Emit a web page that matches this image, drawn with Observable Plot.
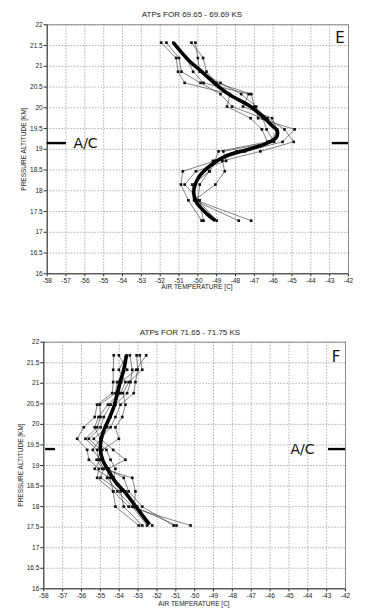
<!DOCTYPE html>
<html><head><meta charset="utf-8">
<script src="https://cdn.jsdelivr.net/npm/d3@7"></script>
<script src="https://cdn.jsdelivr.net/npm/@observablehq/plot@0.6"></script>
<style>
body{margin:0;background:#fff;width:366px;height:613px;position:relative;overflow:hidden;font-family:"Liberation Sans",Arial,sans-serif;}
.t{position:absolute;white-space:nowrap;color:#222;line-height:1;}
.pan{position:absolute;left:0;}
</style></head><body>
<div id="e" class="pan" style="top:0"></div>
<div id="f" class="pan" style="top:310px"></div>
<div class="t" style="left:0;width:384px;text-align:center;top:11px;font-size:8px">ATPs FOR 69.65 - 69.69 KS</div>
<div class="t" style="left:0;width:394px;text-align:center;top:284px;font-size:6.5px">AIR TEMPERATURE [C]</div>
<div class="t" style="left:24px;top:149px;font-size:6.5px;transform:translate(-50%,-50%) rotate(-90deg)">PRESSURE ALTITUDE [KM]</div>
<div class="t" style="left:0;width:380px;text-align:center;top:328.5px;font-size:8px">ATPs FOR 71.65 - 71.75 KS</div>
<div class="t" style="left:0;width:388px;text-align:center;top:601px;font-size:6.5px">AIR TEMPERATURE [C]</div>
<div class="t" style="left:21px;top:465px;font-size:6.5px;transform:translate(-50%,-50%) rotate(-90deg)">PRESSURE ALTITUDE [KM]</div>
<script>
// tick values
const xTicks = [-58,-57,-56,-55,-54,-53,-52,-51,-50,-49,-48,-47,-46,-45,-44,-43,-42];
const yTicks = [16,16.5,17,17.5,18,18.5,19,19.5,20,20.5,21,21.5,22];

// Panel E (69.65 - 69.69 KS)
const eAlt = [21.57,21.2,20.87,20.6,20.33,20.03,19.75,19.48,19.18,18.95,18.72,18.47,18.15,17.77,17.28];
const eProf1 = [-51.95,-51.15,-51.05,-50.7,-48.3,-48.45,-47.2,-46.6,-46.3,-48.9,-49.1,-50.8,-50.9,-50.5,-49.8];
const eProf2 = [-51.67,-51.0,-50.87,-49.86,-48.8,-48.18,-46.55,-46.35,-45.95,-48.65,-48.5,-50.1,-50.7,-49.9,-49.7];
const eProf3 = [-51.31,-50.6,-50.25,-49.7,-47.3,-47.6,-46.06,-45.8,-46.1,-47.95,-49.2,-49.4,-49.9,-50.0,-49.0];
const eProf4 = [-50.34,-49.72,-49.54,-49.01,-47.16,-47.0,-46.3,-45.4,-44.91,-46.68,-48.7,-48.57,-49.07,-50.2,-47.83];
const eProf5 = [-50.13,-50.0,-49.9,-48.8,-47.7,-46.9,-46.8,-44.86,-45.5,-47.5,-49.0,-49.37,-50.3,-50.1,-47.17];
const eMeanAlt = [21.57,21.14,20.86,20.54,20.3,20.06,19.77,19.57,19.45,19.29,19.15,18.99,18.85,18.61,18.33,17.97,17.73,17.48,17.28];
const eMeanT = [-51.3,-50.48,-49.77,-48.98,-48.27,-47.3,-46.5,-46.06,-45.79,-45.83,-46.32,-47.38,-48.45,-49.33,-49.95,-50.22,-50.08,-49.6,-49.07];

// Panel F (71.65 - 71.75 KS)
const fAlt = [21.68,21.33,21.03,20.76,20.48,20.18,19.93,19.65,19.38,19.14,18.92,18.7,18.37,18.0,17.54];
const fProf1 = [-54.29,-54.32,-54.32,-54.37,-55.17,-55.3,-55.88,-56.23,-55.7,-55.61,-55.08,-55.17,-54.32,-54.2,-52.96];
const fProf2 = [-54.02,-53.58,-54.11,-54.2,-55.03,-54.99,-55.17,-55.79,-55.17,-55.08,-54.82,-54.99,-53.93,-53.76,-52.78];
const fProf3 = [-53.61,-54.02,-53.67,-53.93,-54.46,-54.82,-54.99,-55.61,-54.99,-54.9,-54.55,-54.64,-54.1,-53.31,-52.52];
const fProf4 = [-53.44,-53.31,-53.4,-53.58,-54.2,-54.46,-54.64,-55.35,-54.68,-54.46,-54.2,-54.29,-53.67,-53.05,-52.25];
const fProf5 = [-53.08,-53.02,-53.14,-53.23,-53.93,-54.2,-54.46,-54.99,-54.32,-53.67,-54.6,-53.76,-53.5,-52.78,-51.11];
const fProf6 = [-52.91,-52.78,-53.5,-53.8,-53.67,-53.84,-54.2,-54.02,-54.9,-55.2,-54.9,-53.31,-53.14,-53.2,-50.96];
const fProf7 = [-52.57,-53.1,-53.9,-54.0,-54.6,-55.1,-55.3,-55.0,-55.4,-55.0,-55.3,-54.5,-54.32,-53.5,-50.22];
const fMeanAlt = [21.68,21.35,21.03,20.76,20.48,20.18,19.93,19.65,19.38,19.1,18.9,18.6,18.35,18.05,17.56];
const fMeanT = [-53.62,-53.75,-53.95,-54.1,-54.25,-54.5,-54.75,-54.95,-55.0,-54.85,-54.6,-54.2,-53.7,-53.2,-52.4];

// annotations (aircraft altitude marks and panel letters)
const eAC = {alt:19.15, left:[-58,-56.98], right:[-42.86,-42], textT:-56.6, label:"A/C"};
const fAC = {alt:19.4, left:[-57.9,-57.38], right:[-42.9,-42], textT:-44.92, label:"A/C"};
const eLetter = {t:-42.45, a:21.67, label:"E"};
const fLetter = {t:-42.5, a:21.64, label:"F"};

function table(profiles, alts){
  return profiles.flatMap((p,i)=>p.map((t,j)=>({t, a:alts[j], id:i})));
}
function meanTable(ts, as){ return ts.map((t,i)=>({t, a:as[i]})); }

function panel(opts){
  const {height, mt, mb, ml, mr, profiles, alts, meanT, meanA, ac, letter} = opts;
  const data = table(profiles, alts);
  const mean = meanTable(meanT, meanA);
  const dashes = [
    {a:ac.alt, x1:ac.left[0], x2:ac.left[1]},
    {a:ac.alt, x1:ac.right[0], x2:ac.right[1]}
  ];
  return Plot.plot({
    width:366, height, marginTop:mt, marginBottom:mb, marginLeft:ml, marginRight:mr,
    style:{fontFamily:"'Liberation Sans', Arial, sans-serif", fontSize:"6.5px", background:"transparent", color:"#222", overflow:"visible"},
    x:{domain:[-58,-42], ticks:xTicks, tickSize:3, tickPadding:1.5, tickFormat:d=>String(d), label:null},
    y:{domain:[16,22], ticks:yTicks, tickSize:3, tickPadding:1.5, tickFormat:d=>String(d), label:null},
    marks:[
      Plot.ruleX(xTicks, {stroke:"#9a9a9a", strokeDasharray:"1.5,1.5", strokeWidth:0.8}),
      Plot.ruleY(yTicks, {stroke:"#9a9a9a", strokeDasharray:"1.5,1.5", strokeWidth:0.8}),
      Plot.frame({stroke:"#777", strokeWidth:0.8}),
      Plot.ruleX([-58], {stroke:"#333", strokeWidth:0.9}),
      Plot.ruleY([16], {stroke:"#333", strokeWidth:0.9}),
      Plot.line(data, {x:"t", y:"a", z:"id", stroke:"#333", strokeWidth:0.6}),
      Plot.dot(data, {x:"t", y:"a", symbol:"square", r:1.5, fill:"#111", stroke:null}),
      Plot.line(mean, {x:"t", y:"a", curve:"catmull-rom", stroke:"#000", strokeWidth:3.6, strokeLinecap:"butt"}),
      Plot.ruleY(dashes, {y:"a", x1:"x1", x2:"x2", stroke:"#000", strokeWidth:2.4}),
      Plot.text([ac], {x:()=>ac.textT, y:"alt", text:"label", textAnchor:"start", fontSize:14, fontFamily:"'DejaVu Sans', sans-serif", fill:"#111", dy:0}),
      Plot.text([letter], {x:"t", y:"a", text:"label", fontSize:15, fontFamily:"'DejaVu Sans', sans-serif", fill:"#111"})
    ]
  });
}

document.getElementById("e").append(panel({
  height:300, mt:24.3, mb:26.7, ml:46.7, mr:18,
  profiles:[eProf1,eProf2,eProf3,eProf4,eProf5], alts:eAlt,
  meanT:eMeanT, meanA:eMeanAlt, ac:eAC, letter:eLetter
}));
document.getElementById("f").append(panel({
  height:303, mt:31.7, mb:24.7, ml:43.3, mr:21,
  profiles:[fProf1,fProf2,fProf3,fProf4,fProf5,fProf6,fProf7], alts:fAlt,
  meanT:fMeanT, meanA:fMeanAlt, ac:fAC, letter:fLetter
}));
</script>
</body></html>
